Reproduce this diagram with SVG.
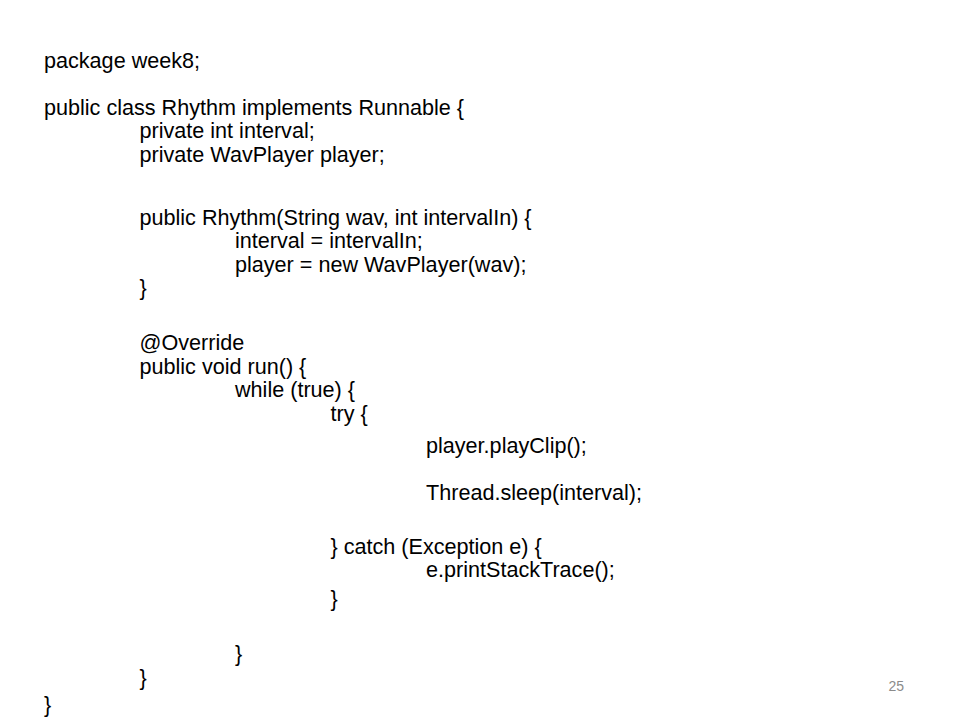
<svg xmlns="http://www.w3.org/2000/svg" width="960" height="720" viewBox="0 0 960 720">
<style>
.code{font-family:"Liberation Sans",Arial,sans-serif;font-size:21.6px;fill:#000}
.pg{font-family:"Liberation Sans",Arial,sans-serif;font-size:14px;fill:#8b8b8b}
</style>
<rect width="960" height="720" fill="#fff"/>
<g id="code" class="code">
<text x="44" y="68">package week8;</text>
<text x="44" y="115">public class Rhythm implements Runnable {</text>
<text x="139.5" y="138">private int interval;</text>
<text x="139.5" y="162">private WavPlayer player;</text>
<text x="139.5" y="225">public Rhythm(String wav, int intervalIn) {</text>
<text x="235" y="248">interval = intervalIn;</text>
<text x="235" y="272">player = new WavPlayer(wav);</text>
<text x="139.5" y="295">}</text>
<text x="139.5" y="350">@Override</text>
<text x="139.5" y="374">public void run() {</text>
<text x="235" y="397">while (true) {</text>
<text x="330.5" y="421">try {</text>
<text x="426" y="453">player.playClip();</text>
<text x="426" y="500">Thread.sleep(interval);</text>
<text x="330.5" y="554">} catch (Exception e) {</text>
<text x="426" y="577">e.printStackTrace();</text>
<text x="330.5" y="606">}</text>
<text x="235" y="661">}</text>
<text x="139.5" y="685">}</text>
<text x="44" y="712">}</text>
</g>
<g id="page-number">
<text class="pg" x="904" y="691" text-anchor="end">25</text>
</g>
</svg>
